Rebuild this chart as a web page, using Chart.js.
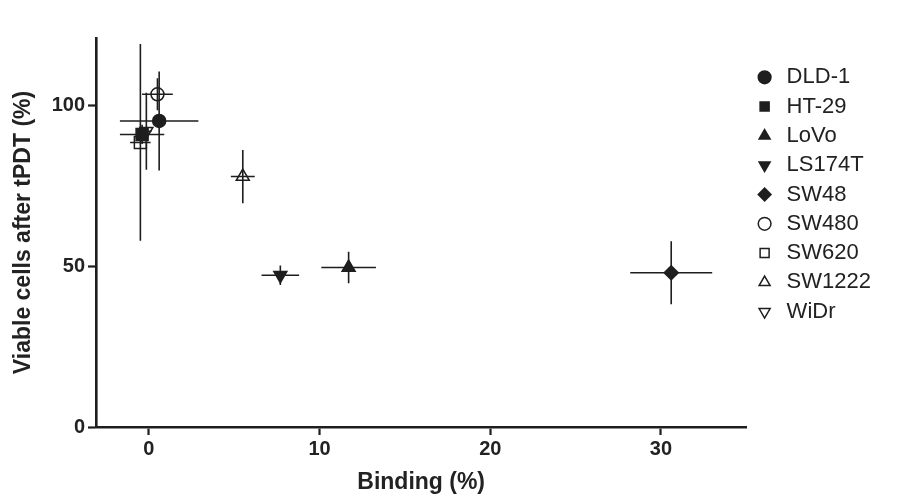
<!DOCTYPE html>
<html>
<head>
<meta charset="utf-8">
<script src="https://cdn.jsdelivr.net/npm/chart.js@4.4.0/dist/chart.umd.min.js"></script>
<style>
  html, body { margin: 0; padding: 0; background: #fff; }
</style>
</head>
<body>
<canvas id="chart" width="922" height="496"></canvas>
<script>
// cell lines, binding (%) and viable cells (%) with SD
var cellLines = ['DLD-1', 'HT-29', 'LoVo', 'LS174T', 'SW48', 'SW480', 'SW620', 'SW1222', 'WiDr'];
var binding = [0.6, -0.4, 11.7, 7.7, 30.6, 0.5, -0.5, 5.5, -0.15];
var bindingErr = [2.3, 1.3, 1.6, 1.1, 2.4, 0.9, 0.6, 0.7, 0.3];
var viable = [95.2, 91.0, 49.6, 47.2, 48.0, 103.5, 88.5, 77.9, 92.0];
var viableErr = [15.4, 3.0, 4.9, 3.0, 9.8, 5.0, 30.6, 8.3, 12.0];
var xTicks = [0, 10, 20, 30];
var yTicks = [0, 50, 100];

var ink = '#1e1e1e';
var markers = [
    {style: 'circle', rot: 0, r: 6.5, fill: true},
    {style: 'rect', rot: 0, r: 8.5, fill: true},
    {style: 'triangle', rot: 0, r: 7.5, fill: true},
    {style: 'triangle', rot: 180, r: 7.5, fill: true},
    {style: 'rectRot', rot: 0, r: 7, fill: true},
    {style: 'circle', rot: 0, r: 6.5, fill: false},
    {style: 'rect', rot: 0, r: 8.5, fill: false},
    {style: 'triangle', rot: 0, r: 7.5, fill: false},
    {style: 'triangle', rot: 180, r: 7.5, fill: false}
];

var datasets = cellLines.map(function (name, i) {
    var m = markers[i];
    return {
        label: name,
        data: [{x: binding[i], y: viable[i]}],
        pointStyle: m.style,
        rotation: m.rot,
        pointRadius: m.r,
        pointHoverRadius: m.r,
        borderWidth: 1.5,
        borderColor: ink,
        backgroundColor: m.fill ? ink : '#fff'
    };
});

// error bars, drawn on top through the chart scales
var errorBars = {
    id: 'errorBars',
    afterDatasetsDraw: function (chart) {
        var ctx = chart.ctx;
        var xs = chart.scales.x, ys = chart.scales.y;
        ctx.save();
        ctx.strokeStyle = ink;
        ctx.lineWidth = 1.6;
        for (var i = 0; i < cellLines.length; i++) {
            var px = xs.getPixelForValue(binding[i]);
            var py = ys.getPixelForValue(viable[i]);
            ctx.beginPath();
            ctx.moveTo(xs.getPixelForValue(binding[i] - bindingErr[i]), py);
            ctx.lineTo(xs.getPixelForValue(binding[i] + bindingErr[i]), py);
            ctx.moveTo(px, ys.getPixelForValue(viable[i] - viableErr[i]));
            ctx.lineTo(px, ys.getPixelForValue(viable[i] + viableErr[i]));
            ctx.stroke();
        }
        ctx.restore();
    }
};

var tickFont = {family: 'Liberation Sans, Arial, sans-serif', size: 20, weight: 'bold'};
var titleFont = {family: 'Liberation Sans, Arial, sans-serif', size: 23, weight: 'bold'};

new Chart(document.getElementById('chart'), {
    type: 'scatter',
    data: {datasets: datasets},
    plugins: [errorBars],
    options: {
        responsive: false,
        animation: false,
        events: [],
        layout: {padding: {top: 38, right: 41, bottom: 0, left: 0}},
        plugins: {
            tooltip: {enabled: false},
            legend: {
                position: 'right',
                align: 'start',
                // empty title only pushes the items down
                title: {display: true, text: ' ', font: {size: 10}, padding: {top: 5, bottom: 4}},
                labels: {
                    usePointStyle: true,
                    boxHeight: 9,
                    boxWidth: 22,
                    padding: 7.3,
                    color: '#222',
                    font: {family: 'Liberation Sans, Arial, sans-serif', size: 22}
                }
            }
        },
        scales: {
            x: {
                type: 'linear',
                min: -3.1,
                max: 35,
                afterBuildTicks: function (scale) {
                    scale.ticks = xTicks.map(function (v) { return {value: v}; });
                },
                afterFit: function (scale) { scale.height = 69; },
                ticks: {color: '#222', font: tickFont, padding: 2},
                grid: {drawOnChartArea: false, drawTicks: true, tickLength: 8, tickWidth: 2.2, tickColor: ink},
                border: {display: true, width: 2.6, color: ink},
                title: {display: true, text: 'Binding (%)', color: '#222', font: titleFont, padding: {top: 2, bottom: 0}}
            },
            y: {
                type: 'linear',
                min: 0,
                max: 121,
                afterBuildTicks: function (scale) {
                    scale.ticks = yTicks.map(function (v) { return {value: v}; });
                },
                afterFit: function (scale) { scale.width = 96; },
                ticks: {color: '#222', font: tickFont, padding: 3},
                grid: {drawOnChartArea: false, drawTicks: true, tickLength: 8, tickWidth: 2.2, tickColor: ink},
                border: {display: true, width: 2.6, color: ink},
                title: {display: true, text: 'Viable cells after tPDT (%)', color: '#222', font: titleFont, padding: {top: 10, bottom: 4}}
            }
        }
    }
});
</script>
</body>
</html>
